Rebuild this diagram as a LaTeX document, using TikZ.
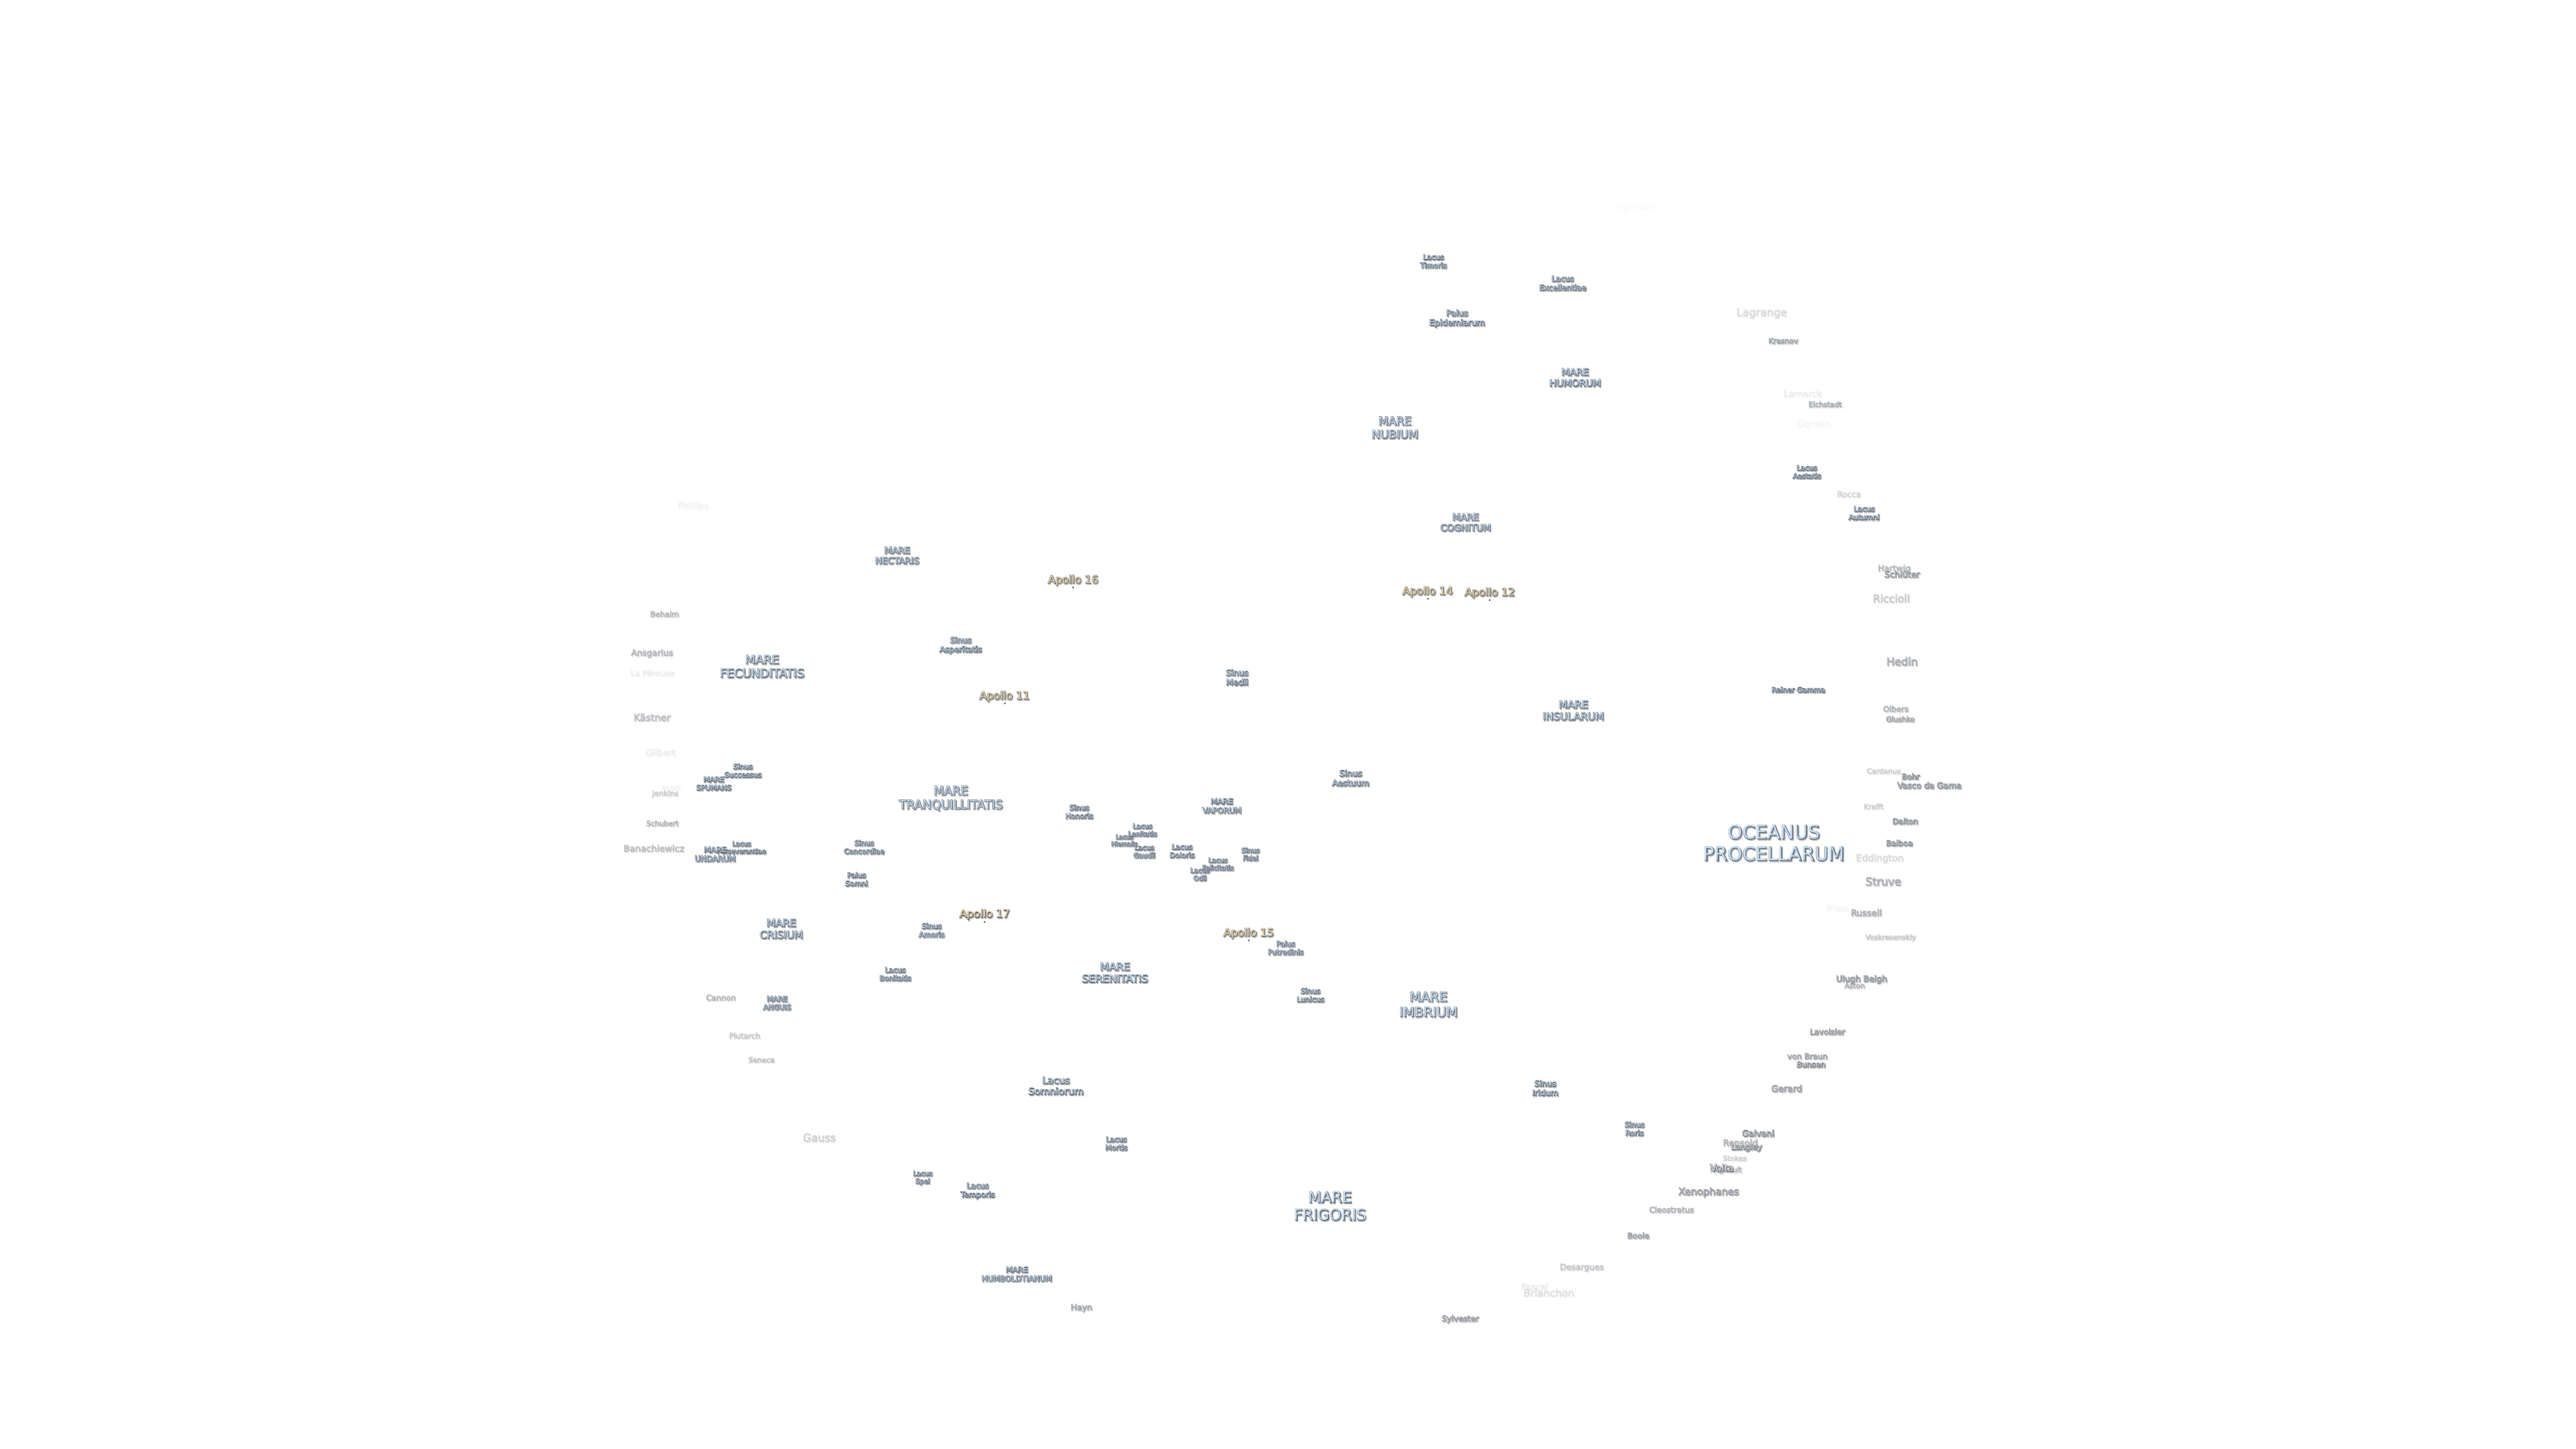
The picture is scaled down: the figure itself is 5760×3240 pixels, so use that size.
\documentclass[tikz,border=0pt]{standalone}
\usepackage{fontspec}
\setmainfont{DejaVu Sans}
\newcommand\lf[1]{\fontsize{#1}{\dimexpr#1pt*115/100\relax}\selectfont}
\newcounter{labno}
\tikzset{
  x=1pt,y=-1pt,
  lab/.style={align=center,inner sep=0pt,outer sep=0pt},
  sealab/.style={lab,execute at begin node={\special{pdf:code 0 Tr 0.78 0.88 0.97 rg}}},
  apollolab/.style={lab,execute at begin node={\special{pdf:code 0 Tr 0.98 0.87 0.66 rg}}},
  craterlab/.style={lab,execute at begin node={\special{pdf:code 0 Tr 0.97 0.97 0.97 rg}}},
  edgelab/.style={lab,execute at begin node={\special{pdf:code 2 Tr 1.4 w 0.30 0.33 0.38 RG 0.30 0.33 0.38 rg}}},
  shadowlab/.style={lab,execute at begin node={\special{pdf:code 2 Tr 2.4 w 0.50 0.50 0.50 RG 0.50 0.50 0.50 rg}}},
  sitedot/.style={circle,fill=black!65,inner sep=0pt,minimum size=4.5pt},
}
\newcommand\place[6]{%
  \stepcounter{labno}%
  \pgfmathsetmacro\shadowop{#5*0.5}%
  \node[shadowlab,opacity=\shadowop,font=\lf{#4}] (s\thelabno) at ({#2+2},{#3+2.5}) {#6};
  \node[edgelab,opacity=#5,font=\lf{#4}] (e\thelabno) at (#2,#3) {#6};
  \node[#1,opacity=#5,font=\lf{#4}] (n\thelabno) at (#2,#3) {#6};
}
\begin{document}
\begin{tikzpicture}
\useasboundingbox (0,0) rectangle (5760,3240);
\fill[white] (0,0) rectangle (5760,3240);
% faded crater names
\place{craterlab}{1550}{1132}{19.5}{0.03}{Phillips}
\place{craterlab}{1486}{1373}{17}{0.27}{Behaim}
\place{craterlab}{1458}{1461}{19}{0.27}{Ansgarius}
\place{craterlab}{1459}{1505}{18}{0.05}{La Pérouse}
\place{craterlab}{1458}{1604}{21.5}{0.24}{Kästner}
\place{craterlab}{1477}{1683}{19.8}{0.05}{Gilbert}
\place{craterlab}{1500}{1762}{15}{0.03}{Nobili}
\place{craterlab}{1487.5}{1775}{16.5}{0.16}{Jenkins}
\place{craterlab}{1481}{1841}{16}{0.28}{Schubert}
\place{craterlab}{1462}{1897}{20}{0.24}{Banachiewicz}
\place{craterlab}{1612}{2231}{17.4}{0.27}{Cannon}
\place{craterlab}{1665}{2316}{17}{0.18}{Plutarch}
\place{craterlab}{1702.5}{2370}{16}{0.22}{Seneca}
\place{craterlab}{1832}{2544}{24}{0.15}{Gauss}
\place{craterlab}{2418}{2925}{18.5}{0.42}{Hayn}
\place{craterlab}{3431}{2877}{19}{0.05}{Pascal}
\place{craterlab}{3463}{2891}{22.5}{0.09}{Brianchon}
\place{craterlab}{3537}{2835}{18.5}{0.2}{Desargues}
\place{craterlab}{3265}{2950}{17.8}{0.55}{Sylvester}
\place{craterlab}{3663}{2763}{17.5}{0.5}{Boole}
\place{craterlab}{3737.5}{2705}{17.6}{0.3}{Cleostratus}
\place{craterlab}{3820.5}{2666}{22}{0.55}{Xenophanes}
\place{craterlab}{3859}{2617}{16}{0.26}{Regnault}
\place{craterlab}{3850}{2611}{21}{0.95}{Volta}
\place{craterlab}{3879}{2590}{16}{0.15}{Stokes}
\place{craterlab}{3891.5}{2557}{19.8}{0.3}{Repsold}
\place{craterlab}{3905}{2566}{17.5}{0.85}{Langley}
\place{craterlab}{3931}{2534}{19}{0.7}{Galvani}
\place{craterlab}{3995}{2434}{20}{0.5}{Gerard}
\place{craterlab}{4041.5}{2362}{17.5}{0.42}{von Braun}
\place{craterlab}{4049}{2380}{17.4}{0.9}{Bunsen}
\place{craterlab}{4086}{2307}{17.6}{0.55}{Lavoisier}
\place{craterlab}{4147}{2204}{16}{0.3}{Aston}
\place{craterlab}{4162.5}{2190}{18.8}{0.6}{Ulugh Beigh}
\place{craterlab}{4227.6}{2097}{16}{0.18}{Voskresenskiy}
\place{craterlab}{4108}{2032}{15.5}{0.025}{Briggs}
\place{craterlab}{4173}{2041}{19.8}{0.35}{Russell}
\place{craterlab}{4211}{1971}{24.4}{0.37}{Struve}
\place{craterlab}{4203}{1920}{21}{0.11}{Eddington}
\place{craterlab}{4247}{1885}{17.4}{0.6}{Balboa}
\place{craterlab}{4260}{1836}{17.3}{0.75}{Dalton}
\place{craterlab}{4189}{1803.5}{16}{0.15}{Krafft}
\place{craterlab}{4212}{1724}{16}{0.15}{Cardanus}
\place{craterlab}{4314}{1756}{18.5}{0.65}{Vasco da Gama}
\place{craterlab}{4272}{1736}{17}{0.85}{Bohr}
\place{craterlab}{4249}{1608}{16}{0.42}{Glushko}
\place{craterlab}{4239}{1585}{17.5}{0.3}{Olbers}
\place{craterlab}{4253}{1479}{24}{0.37}{Hedin}
\place{craterlab}{3657}{463}{18.5}{0.012}{Inghirami}
\place{craterlab}{3939}{700.5}{24}{0.11}{Lagrange}
\place{craterlab}{3987.5}{762}{16.4}{0.45}{Krasnov}
\place{craterlab}{4031}{880}{20}{0.05}{Lamarck}
\place{craterlab}{4081}{904}{16}{0.33}{Eichstadt}
\place{craterlab}{4055}{947}{21}{0.025}{Darwin}
\place{craterlab}{4134}{1105}{18}{0.13}{Rocca}
\place{craterlab}{4235.5}{1272}{18.8}{0.26}{Hartwig}
\place{craterlab}{4253}{1284}{19}{0.55}{Schlüter}
\place{craterlab}{4229}{1338}{23.5}{0.19}{Riccioli}
% seas, lakes, bays, marshes
\place{sealab}{1704}{1490}{26.5}{1}{MARE\\FECUNDITATIS}
\place{sealab}{2006}{1242}{20}{1}{MARE\\NECTARIS}
\place{sealab}{1661}{1723}{16}{1}{Sinus\\Successus}
\place{sealab}{1596}{1752}{16}{1}{MARE\\SPUMANS}
\place{sealab}{1658}{1895}{14.5}{1}{Lacus\\Perseverantiae}
\place{sealab}{1599}{1910}{17.5}{1}{MARE\\UNDARUM}
\place{sealab}{1932}{1894}{16}{1}{Sinus\\Concordiae}
\place{sealab}{1915}{1966}{16}{1}{Palus\\Somni}
\place{sealab}{1747}{2077}{23}{1}{MARE\\CRISIUM}
\place{sealab}{2001.6}{2178}{16}{1}{Lacus\\Bonitatis}
\place{sealab}{1737.5}{2243}{16}{1}{MARE\\ANGUIS}
\place{sealab}{2063}{2634}{15}{1}{Lacus\\Spei}
\place{sealab}{2186}{2663}{17}{1}{Lacus\\Temporis}
\place{sealab}{2273.5}{2849}{17.3}{1}{MARE\\HUMBOLDTIANUM}
\place{sealab}{2496}{2557}{16}{1}{Lacus\\Mortis}
\place{sealab}{2361}{2428}{21.4}{1}{Lacus\\Somniorum}
\place{sealab}{2493}{2175}{23.4}{1}{MARE\\SERENITATIS}
\place{sealab}{2083}{2080}{16.4}{1}{Sinus\\Amoris}
\place{sealab}{2148}{1443}{17.7}{1}{Sinus\\Asperitatis}
\place{sealab}{2766}{1514.6}{18.5}{1}{Sinus\\Medii}
\place{sealab}{2126}{1785}{27}{1}{MARE\\TRANQUILLITATIS}
\place{sealab}{2413}{1815}{16.2}{1}{Sinus\\Honoris}
\place{sealab}{2732}{1802}{17.5}{1}{MARE\\VAPORUM}
\place{sealab}{2514}{1879}{13.6}{1}{Lacus\\Hiemalis}
\place{sealab}{2554.5}{1856}{15}{1}{Lacus\\Lenitatis}
\place{sealab}{2558.5}{1904}{15.2}{1}{Lacus\\Gaudii}
\place{sealab}{2643}{1903}{16}{1}{Lacus\\Doloris}
\place{sealab}{2683}{1955}{15}{1}{Lacus\\Odii}
\place{sealab}{2723}{1932}{14.8}{1}{Lacus\\Felicitatis}
\place{sealab}{2796}{1910}{15}{1}{Sinus\\Fidei}
\place{sealab}{2874.5}{2119.5}{16}{1}{Palus\\Putredinis}
\place{sealab}{2930}{2225}{16.2}{1}{Sinus\\Lunicus}
\place{sealab}{3194}{2246}{29.5}{1}{MARE\\IMBRIUM}
\place{sealab}{3455}{2433}{18}{1}{Sinus\\Iridum}
\place{sealab}{2974}{2697}{34}{1}{MARE\\FRIGORIS}
\place{sealab}{3654.5}{2524}{16.3}{1}{Sinus\\Roris}
\place{sealab}{3966.5}{1885}{42}{1}{OCEANUS\\PROCELLARUM}
\place{sealab}{4021}{1542}{16}{1}{Reiner Gamma}
\place{sealab}{4040}{1055}{15.7}{1}{Lacus\\Aestatis}
\place{sealab}{4168}{1147}{16.3}{1}{Lacus\\Autumni}
\place{sealab}{3205}{584}{16.2}{1}{Lacus\\Timoris}
\place{sealab}{3494}{633}{17.3}{1}{Lacus\\Excellentiae}
\place{sealab}{3258}{712}{18.6}{1}{Palus\\Epidemiarum}
\place{sealab}{3522}{844}{21.3}{1}{MARE\\HUMORUM}
\place{sealab}{3119}{956}{25.7}{1}{MARE\\NUBIUM}
\place{sealab}{3277}{1168}{20.5}{1}{MARE\\COGNITUM}
\place{sealab}{3518}{1588.5}{23}{1}{MARE\\INSULARUM}
\place{sealab}{3020}{1739.6}{18.7}{1}{Sinus\\Aestuum}
% landing sites
\node[sitedot] (d16) at (2399.5,1313.7) {};
\node[sitedot] (d11) at (2247,1573) {};
\node[sitedot] (d17) at (2201.5,2062) {};
\node[sitedot] (d15) at (2792.5,2103) {};
\node[sitedot] (d14) at (3193,1339) {};
\node[sitedot] (d12) at (3331,1342) {};
\place{apollolab}{2399.5}{1297.6}{24}{1}{Apollo 16}
\place{apollolab}{2246}{1557}{24}{1}{Apollo 11}
\place{apollolab}{2201.5}{2045}{24}{1}{Apollo 17}
\place{apollolab}{2792}{2087}{24}{1}{Apollo 15}
\place{apollolab}{3192}{1323}{24}{1}{Apollo 14}
\place{apollolab}{3331}{1325.6}{24}{1}{Apollo 12}
\end{tikzpicture}
\end{document}
